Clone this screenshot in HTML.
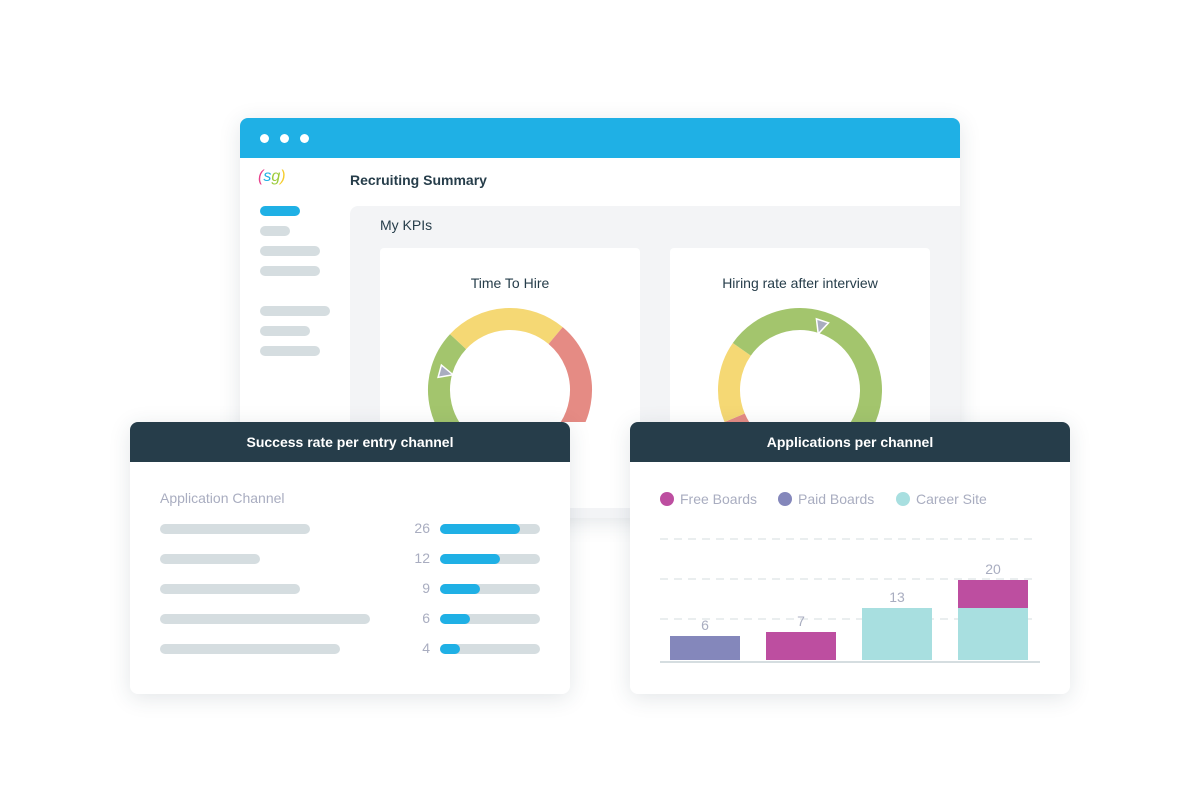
<!DOCTYPE html>
<html><head><meta charset="utf-8"><style>
*{margin:0;padding:0;box-sizing:border-box}
body{width:1200px;height:800px;background:#fff;position:relative;overflow:hidden;font-family:"Liberation Sans",sans-serif}
.abs{position:absolute}
.pill{position:absolute;height:10px;border-radius:5px;background:#d5dde0}
.card{position:absolute;background:#fff;border-radius:8px;box-shadow:0 4px 22px rgba(40,60,80,0.13);overflow:hidden}
.hdr{height:40px;background:#263d4a;color:#fff;font-weight:bold;font-size:14px;text-align:center;line-height:40px}
</style></head><body>
<div class="card" style="left:240px;top:118px;width:720px;height:400px;border-radius:8px">
  <div style="height:40px;background:#1fb0e5;position:relative">
    <div class="abs" style="left:20px;top:16px;width:9px;height:9px;border-radius:50%;background:#fff"></div>
    <div class="abs" style="left:40px;top:16px;width:9px;height:9px;border-radius:50%;background:#fff"></div>
    <div class="abs" style="left:60px;top:16px;width:9px;height:9px;border-radius:50%;background:#fff"></div>
  </div>
  <div class="abs" style="left:18px;top:50px;font-size:16px;font-style:italic"><span style="color:#e8428c">(</span><span style="color:#1fb0e5">s</span><span style="color:#9ccb3b">g</span><span style="color:#f5cc2e">)</span></div>
  <div class="pill" style="left:20px;top:88px;width:40px;background:#1fb0e5"></div>
  <div class="pill" style="left:20px;top:108px;width:30px"></div>
  <div class="pill" style="left:20px;top:128px;width:60px"></div>
  <div class="pill" style="left:20px;top:148px;width:60px"></div>
  <div class="pill" style="left:20px;top:188px;width:70px"></div>
  <div class="pill" style="left:20px;top:208px;width:50px"></div>
  <div class="pill" style="left:20px;top:228px;width:60px"></div>
  <div class="abs" style="left:110px;top:54px;font-size:14px;font-weight:bold;color:#263d4a">Recruiting Summary</div>
  <div class="abs" style="left:110px;top:88px;width:620px;height:320px;background:#f3f4f6;border-radius:8px">
    <div class="abs" style="left:30px;top:11px;font-size:14px;color:#263d4a">My KPIs</div>
    <div class="abs" style="left:30px;top:42px;width:260px;height:260px;background:#fff;border-radius:4px">
      <div style="text-align:center;margin-top:27px;font-size:14px;color:#263d4a">Time To Hire</div>
    </div>
    <div class="abs" style="left:320px;top:42px;width:260px;height:260px;background:#fff;border-radius:4px">
      <div style="text-align:center;margin-top:27px;font-size:14px;color:#263d4a">Hiring rate after interview</div>
    </div>
  </div>
</div>
<svg class="abs" id="donuts" style="left:0;top:0" width="1200" height="800"></svg>

<div class="card" style="left:130px;top:422px;width:440px;height:272px">
  <div class="hdr">Success rate per entry channel</div>
  <div class="abs" style="left:30px;top:68px;font-size:14px;color:#a9adc0">Application Channel</div>
  <div id="rows"></div>
</div>

<div class="card" style="left:630px;top:422px;width:440px;height:272px">
  <div class="hdr">Applications per channel</div>
</div>
<svg class="abs" id="bars" style="left:630px;top:422px" width="440" height="272"></svg>

<script>
// Success rate data
const channelValues=[26,12,9,6,4];
const channelRates=[0.8,0.6,0.4,0.3,0.2];
const channelLabelLens=[150,100,140,210,180];
// Applications data
const appCategories=["A","B","C","D"];
const freeBoards=[0,7,0,7];
const paidBoards=[6,0,0,0];
const careerSite=[0,0,13,13];
const totals=[6,7,13,20];
const gridTicks=[10,20,30];
// Gauge data (degrees clockwise from top)
const gauge1Segments=[[200,313,"#a3c56d"],[313,400,"#f5d874"],[400,520,"#e58b84"]];
const gauge1Needle=285;
const gauge2Segments=[[170,247,"#e58b84"],[247,305,"#f5d874"],[305,555,"#a3c56d"]];
const gauge2Needle=18;

const NS="http://www.w3.org/2000/svg";
const rows=document.getElementById('rows');
channelValues.forEach((v,i)=>{
  const y=102+i*30;
  const l=document.createElement('div');l.className='pill';l.style.cssText=`left:30px;top:${y}px;width:${channelLabelLens[i]}px`;
  
  
  rows.appendChild(l);
  const t=document.createElement('div');t.className='abs';t.textContent=v;
  t.style.cssText=`left:260px;width:40px;text-align:right;top:${y-4}px;font-size:14px;color:#a9adc0`;
  
  
  rows.appendChild(t);
  const tr=document.createElement('div');tr.className='pill';tr.style.cssText=`left:310px;top:${y}px;width:100px`;
  
  
  rows.appendChild(tr);
  const f=document.createElement('div');f.className='pill';f.style.cssText=`left:310px;top:${y}px;width:${channelRates[i]*100}px;background:#1fb0e5`;
  
  
  rows.appendChild(f);
});

function el(tag,attrs,parent){const e=document.createElementNS(NS,tag);for(const k in attrs)e.setAttribute(k,attrs[k]);parent.appendChild(e);return e;}
const dsvg=document.getElementById('donuts');
const clip=el('clipPath',{id:'cp'},el('defs',{},dsvg));
el('rect',{x:0,y:0,width:1200,height:422},clip);
function pt(cx,cy,r,a){const t=a*Math.PI/180;return [cx+r*Math.sin(t),cy-r*Math.cos(t)];}
function gauge(cx,segs,needle,name){
  const cy=390,r=71;
  const g=el('g',{'clip-path':'url(#cp)'},dsvg);
  
  
  segs.forEach(s=>{
    const [x1,y1]=pt(cx,cy,r,s[0]),[x2,y2]=pt(cx,cy,r,s[1]);
    const p=el('path',{d:`M${x1} ${y1}A${r} ${r} 0 ${s[1]-s[0]>180?1:0} 1 ${x2} ${y2}`,fill:'none',stroke:s[2],'stroke-width':22},g);
    
    
  });
  const a=needle;
  const tip=pt(cx,cy,r-12,a),b1=pt(cx,cy,r+2,a-5),b2=pt(cx,cy,r+2,a+5);
  const n=el('polygon',{points:`${tip} ${b1} ${b2}`,fill:'#a9adc0',stroke:'#fff','stroke-width':1.5},g);
  
  
}
gauge(510,gauge1Segments,gauge1Needle,'time-to-hire-gauge');
gauge(800,gauge2Segments,gauge2Needle,'hiring-rate-gauge');

// bar chart
const bs=document.getElementById('bars');
const base=238,unit=4;
const ys=v=>base-v*unit;
const xs=i=>40+i*96;
const legend=[["Free Boards","#bd4ea0"],["Paid Boards","#8487bb"],["Career Site","#a8dfe0"]];
let lx=37;
legend.forEach(([n,c])=>{
  const g=el('g',{},bs);
  
  
  el('circle',{cx:lx,cy:77,r:7,fill:c},g);
  const t=el('text',{x:lx+13,y:82,'font-size':14,fill:'#a9adc0','font-family':'Liberation Sans, sans-serif'},g);t.textContent=n;
  lx+=118;
});
gridTicks.forEach(v=>{
  const l=el('line',{x1:30,x2:406,y1:ys(v)-1,y2:ys(v)-1,stroke:'#e4e8ea','stroke-width':1.5,'stroke-dasharray':'8 6'},bs);
  
  
});
appCategories.forEach((c,i)=>{
  let acc=0;
  [[careerSite,"#a8dfe0"],[paidBoards,"#8487bb"],[freeBoards,"#bd4ea0"]].forEach(([arr,col])=>{
    const v=arr[i]; if(!v)return;
    const r=el('rect',{x:xs(i),y:ys(acc+v),width:70,height:v*unit,fill:col},bs);
    
    
    acc+=v;
  });
  const t=el('text',{x:xs(i)+35,y:ys(totals[i])-6,'text-anchor':'middle','font-size':14,fill:'#a9adc0','font-family':'Liberation Sans, sans-serif'},bs);
  t.textContent=totals[i];
  
  
});
const ax=el('line',{x1:30,x2:410,y1:base+2,y2:base+2,stroke:'#d5dde0','stroke-width':2},bs);


</script>
</body></html>
